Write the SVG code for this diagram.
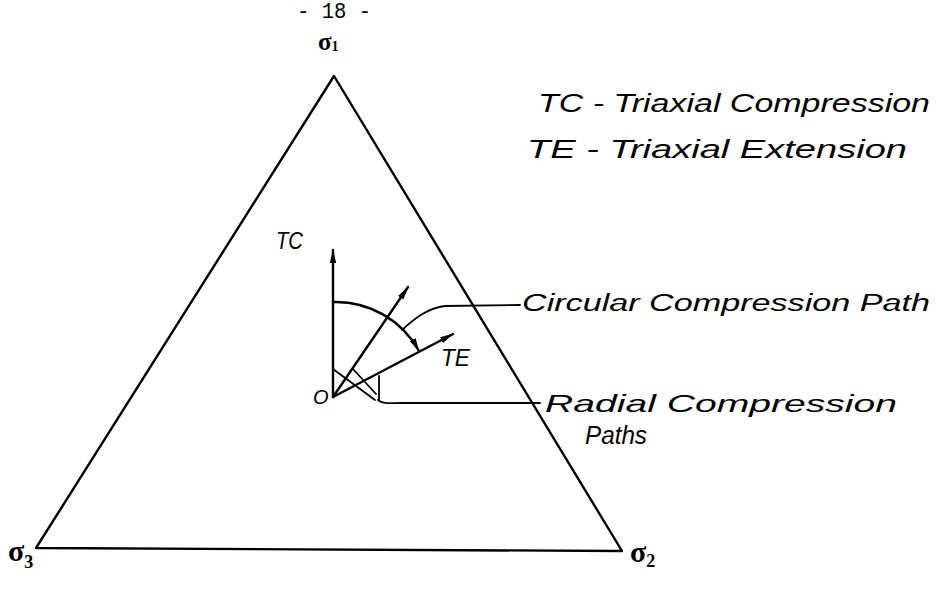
<svg xmlns="http://www.w3.org/2000/svg" width="936" height="604" viewBox="0 0 936 604">
<defs>
<style>
.ln{fill:none;stroke:#000;stroke-width:2.4;stroke-linecap:round;stroke-linejoin:round}
.th{fill:none;stroke:#000;stroke-width:1.8;stroke-linecap:round}
.hw{font-family:"Liberation Sans","DejaVu Sans",sans-serif;font-style:italic;fill:#000}
.sg{font-family:"Liberation Serif","DejaVu Serif",serif;font-weight:bold;fill:#000}
.mono{font-family:"Liberation Mono","DejaVu Sans Mono",monospace;fill:#000}
</style>
<marker id="ah" viewBox="0 0 14 8" refX="13" refY="4" markerWidth="14" markerHeight="8" markerUnits="userSpaceOnUse" orient="auto">
<path d="M0 0.8 L14 4 L0 7.2 Z" fill="#000"/>
</marker>
</defs>
<rect width="936" height="604" fill="#fff"/>
<text class="mono" x="334" y="18" font-size="22" text-anchor="middle" textLength="74" lengthAdjust="spacingAndGlyphs">- 18 -</text>
<g id="triangle">
<path class="ln" d="M334 76 L36 548 L622 551 Z"/>
</g>
<g id="sigma1"><text class="sg" x="318" y="50" font-size="25">σ<tspan font-size="14" dy="1">1</tspan></text></g>
<g id="sigma2"><text class="sg" x="630" y="562" font-size="30">σ<tspan font-size="18" dy="5">2</tspan></text></g>
<g id="sigma3"><text class="sg" x="8" y="561" font-size="30">σ<tspan font-size="18" dy="7">3</tspan></text></g>
<g id="legend">
<text class="hw" x="538" y="112" font-size="25" textLength="392" lengthAdjust="spacingAndGlyphs">TC - Triaxial Compression</text>
<text class="hw" x="527" y="158" font-size="25" textLength="380" lengthAdjust="spacingAndGlyphs">TE - Triaxial Extension</text>
</g>
<g id="origin"><text class="hw" x="313" y="404" font-size="20" font-style="normal">O</text></g>
<g id="tc-label"><text class="hw" x="276" y="249" font-size="24" textLength="27" lengthAdjust="spacingAndGlyphs">TC</text></g>
<g id="te-label"><text class="hw" x="441" y="366" font-size="24" textLength="29" lengthAdjust="spacingAndGlyphs">TE</text></g>
<g id="circular-label"><text class="hw" x="522" y="311" font-size="23" textLength="408" lengthAdjust="spacingAndGlyphs">Circular Compression Path</text></g>
<g id="radial-label">
<text class="hw" x="545" y="412" font-size="24" textLength="352" lengthAdjust="spacingAndGlyphs">Radial Compression</text>
<text class="hw" x="585" y="444" font-size="26" textLength="62" lengthAdjust="spacingAndGlyphs">Paths</text>
</g>
<g id="connectors">
<path class="ln" d="M333 397 L333 250" marker-end="url(#ah)"/>
<path class="ln" d="M333 397 L408 287" marker-end="url(#ah)"/>
<path class="ln" d="M333 397 L453 334" marker-end="url(#ah)"/>
<path class="ln" d="M333 302 A95 95 0 0 1 419 351" marker-end="url(#ah)"/>
<path class="th" d="M333 369 L375 400"/>
<path class="th" d="M353 369 L376 394"/>
<path class="th" d="M379 376 L379 400"/>
<path class="th" d="M402 330 C415 318 428 308 445 306 L520 305"/>
<path class="th" d="M378 400 C382 404 390 403 400 403 L540 403"/>
</g>
</svg>
